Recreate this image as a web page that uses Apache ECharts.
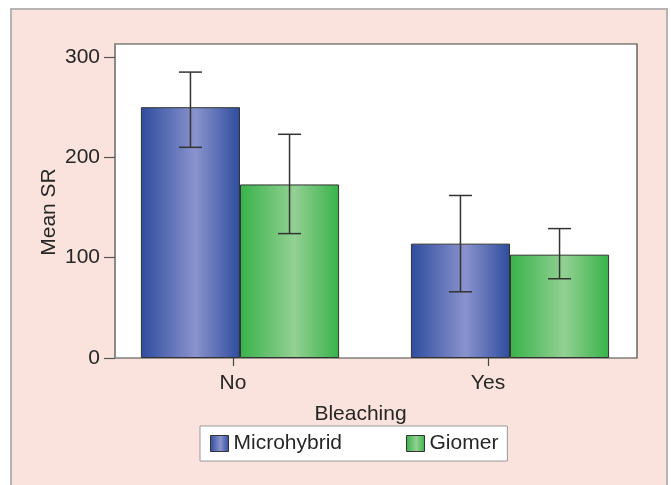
<!DOCTYPE html>
<html>
<head>
<meta charset="utf-8">
<script src="https://cdn.jsdelivr.net/npm/echarts@6/dist/echarts.min.js"></script>
<style>
  html, body { margin: 0; padding: 0; background: #ffffff; }
  #chart { width: 671px; height: 485px; }
</style>
</head>
<body>
<div id="chart"></div>
<script>
// Bleaching groups on the x axis
const categories = ['No', 'Yes'];
const seriesNames = ['Microhybrid', 'Giomer'];

// Mean shear resistance per group
const microMean = [250, 114];
const giomerMean = [173, 103];

// Error bar limits (lower, upper)
const microLow = [210, 66];
const microHigh = [285, 162];
const giomerLow = [124, 79];
const giomerHigh = [223, 129];

// Y axis tick values
const yTicks = [0, 100, 200, 300];

const FONT = '"Liberation Sans", Arial, sans-serif';
const TEXT = '#262626';
const Y_MAX = 313;
const BAR_FRAC = 0.367;

function barGradient(edge, mid) {
  return new echarts.graphic.LinearGradient(0, 0, 1, 0, [
    { offset: 0, color: edge },
    { offset: 0.55, color: mid },
    { offset: 1, color: edge }
  ]);
}
const blueFill = barGradient('#2e4c9e', '#8a93cd');
const greenFill = barGradient('#37b349', '#93d093');

function errorBars(sign) {
  return function (params, api) {
    const band = api.size([1, 0])[0];
    const off = sign * band * BAR_FRAC / 2;
    const hi = api.coord([api.value(0), api.value(2)]);
    const lo = api.coord([api.value(0), api.value(1)]);
    const x = hi[0] + off;
    const cap = 11.5;
    const style = { stroke: '#333333', lineWidth: 1.5 };
    return {
      type: 'group',
      children: [
        { type: 'line', shape: { x1: x, y1: hi[1], x2: x, y2: lo[1] }, style: style },
        { type: 'line', shape: { x1: x - cap, y1: hi[1], x2: x + cap, y2: hi[1] }, style: style },
        { type: 'line', shape: { x1: x - cap, y1: lo[1], x2: x + cap, y2: lo[1] }, style: style }
      ]
    };
  };
}

const chart = echarts.init(document.getElementById('chart'), null, { renderer: 'canvas' });

chart.setOption({
  backgroundColor: '#ffffff',
  animation: false,
  textStyle: { fontFamily: FONT },
  graphic: [{
    type: 'rect',
    z: -10,
    shape: { x: 11, y: 9, width: 656, height: 480 },
    style: { fill: '#fbe3dd', stroke: '#b4b4b4', lineWidth: 2 }
  }],
  grid: [
    // framed plot area
    { left: 115, right: 34, top: 44, bottom: 127, show: true, backgroundColor: '#ffffff',
      borderColor: '#444444', borderWidth: 1.2, z: 0 },
    // bars and error bars
    { left: 105, right: 26, top: 44, bottom: 127 },
    // category ticks and labels
    { left: 105.5, right: 55.5, top: 44, bottom: 127 }
  ],
  legend: {
    data: seriesNames,
    left: 200,
    top: 426,
    orient: 'horizontal',
    backgroundColor: '#ffffff',
    borderColor: '#9a9a9a',
    borderWidth: 1,
    padding: [7, 9, 7, 10],
    itemWidth: 18,
    itemHeight: 16,
    itemGap: 64,
    icon: 'rect',
    itemStyle: { borderColor: '#333333', borderWidth: 1 },
    textStyle: { fontSize: 21, color: TEXT, fontFamily: FONT }
  },
  xAxis: [
    { gridIndex: 0, type: 'category', data: categories, show: false },
    { gridIndex: 1, type: 'category', data: categories, show: false },
    {
      gridIndex: 2, type: 'category', data: categories,
      axisLine: { show: false },
      axisTick: { show: true, alignWithLabel: true, length: 8, lineStyle: { color: '#444444', width: 1.2 } },
      axisLabel: { fontSize: 21, color: TEXT, margin: 15, fontFamily: FONT },
      name: 'Bleaching',
      nameLocation: 'middle',
      nameGap: 46,
      nameMoveOverlap: false,
      nameTextStyle: { fontSize: 21, color: TEXT, fontFamily: FONT }
    }
  ],
  yAxis: [
    {
      gridIndex: 0, type: 'value', min: 0, max: Y_MAX, interval: 100,
      splitLine: { show: false },
      axisLine: { show: true, lineStyle: { color: '#8a8a8a', width: 2 } },
      axisTick: { show: true, length: 11, customValues: yTicks, lineStyle: { color: '#555555', width: 1.2 } },
      axisLabel: { fontSize: 21, color: TEXT, margin: 15, customValues: yTicks, fontFamily: FONT },
      name: 'Mean SR',
      nameLocation: 'middle',
      nameRotate: 90,
      nameGap: 55,
      nameMoveOverlap: false,
      nameTextStyle: { fontSize: 21, color: TEXT, fontFamily: FONT, padding: [0, 22, 0, 0] }
    },
    { gridIndex: 1, type: 'value', min: 0, max: Y_MAX, show: false },
    { gridIndex: 2, type: 'value', min: 0, max: Y_MAX, show: false }
  ],
  series: [
    {
      name: seriesNames[0], type: 'bar', xAxisIndex: 1, yAxisIndex: 1,
      data: microMean, barWidth: (BAR_FRAC * 100) + '%', barGap: '0%', z: 3,
      itemStyle: { color: blueFill, borderColor: '#333333', borderWidth: 1 }
    },
    {
      name: seriesNames[1], type: 'bar', xAxisIndex: 1, yAxisIndex: 1,
      data: giomerMean, barWidth: (BAR_FRAC * 100) + '%', barGap: '0%', z: 3,
      itemStyle: { color: greenFill, borderColor: '#333333', borderWidth: 1 }
    },
    {
      name: 'Microhybrid range', type: 'custom', xAxisIndex: 1, yAxisIndex: 1, z: 5,
      renderItem: errorBars(-1),
      encode: { x: 0, y: [1, 2] },
      data: categories.map((c, i) => [i, microLow[i], microHigh[i]])
    },
    {
      name: 'Giomer range', type: 'custom', xAxisIndex: 1, yAxisIndex: 1, z: 5,
      renderItem: errorBars(1),
      encode: { x: 0, y: [1, 2] },
      data: categories.map((c, i) => [i, giomerLow[i], giomerHigh[i]])
    }
  ]
});
</script>
</body>
</html>
